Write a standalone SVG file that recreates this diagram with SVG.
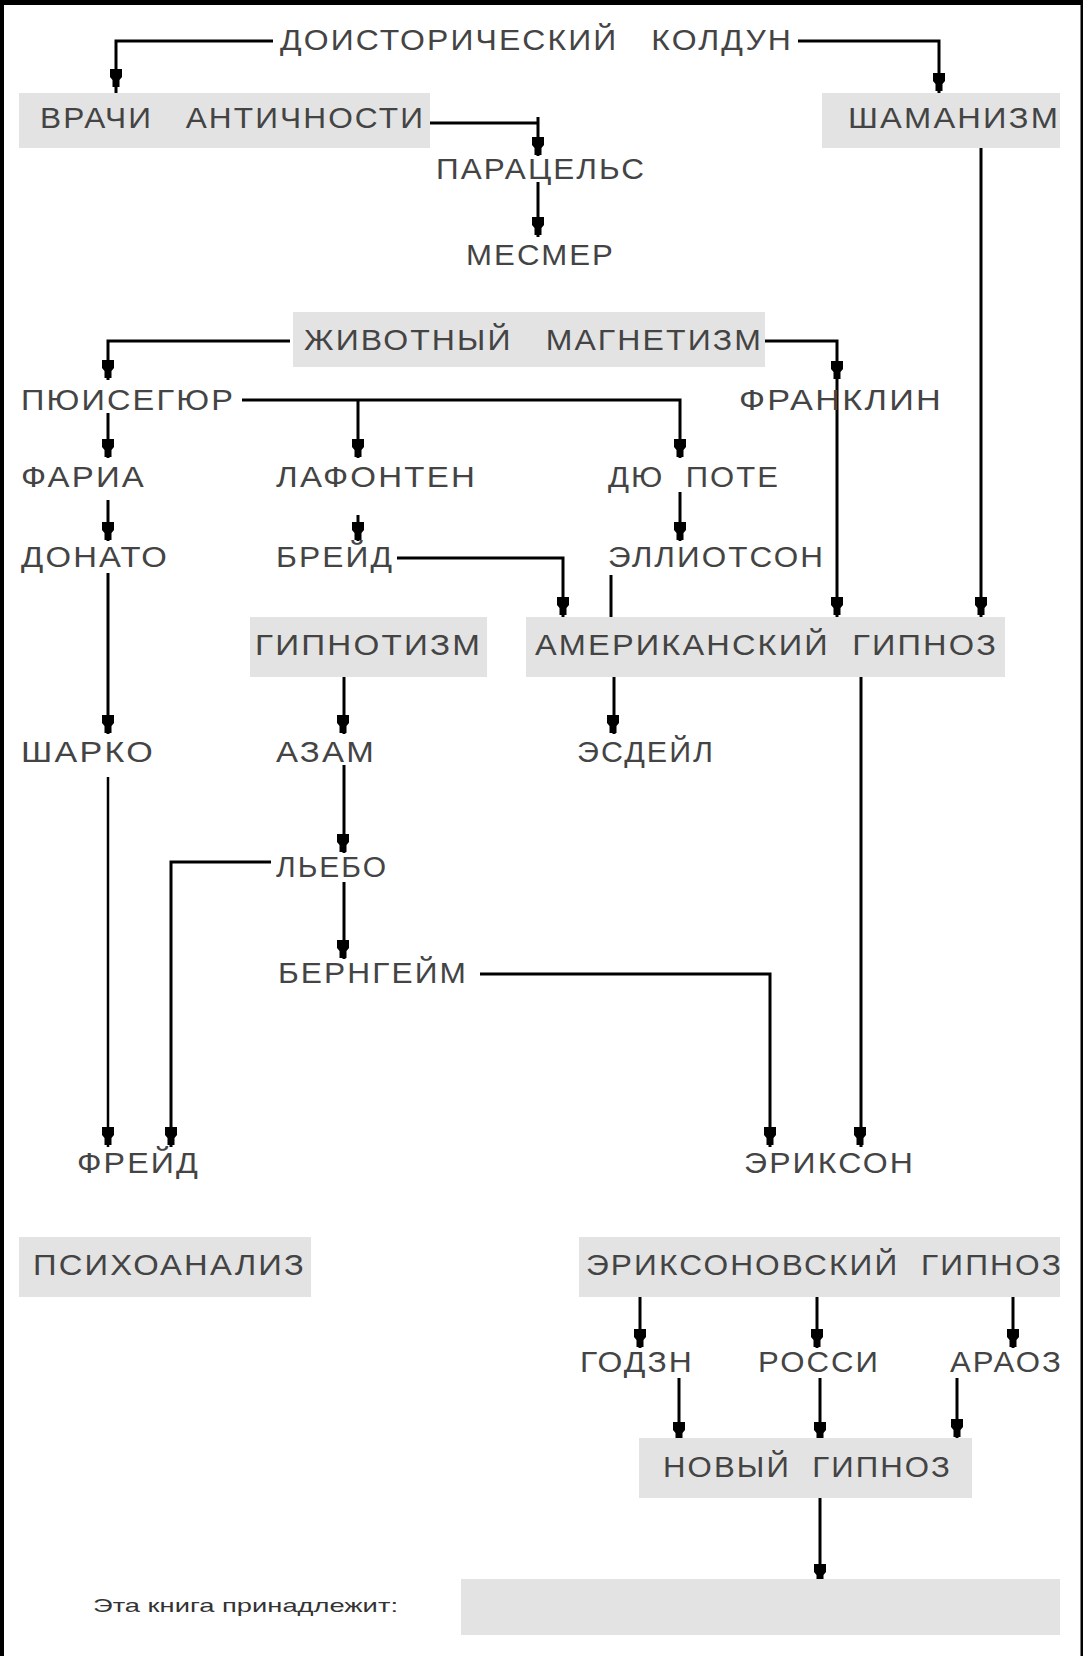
<svg xmlns="http://www.w3.org/2000/svg" xmlns:xlink="http://www.w3.org/1999/xlink" width="1083" height="1656" viewBox="0 0 1083 1656">
<style>
  .box { fill: #e3e3e3; }
  .t { font-family: "Liberation Sans", Arial, sans-serif; font-size: 30px; fill: #444; white-space: pre; letter-spacing: 2px; }
  .s { font-family: "Liberation Sans", Arial, sans-serif; font-size: 19px; fill: #333; white-space: pre; }
  .c path { fill: none; stroke: #000; stroke-width: 3; }
  .frame { stroke: #000; fill: none; }
</style>
<defs>
  <polygon id="ah" points="-6,-18 6,-18 6,-10 3.5,-7 3.5,0 -3.5,0 -3.5,-7 -6,-10" fill="#000"/>
</defs>
<rect width="1083" height="1656" fill="#fff"/>
<line class="frame" x1="2" y1="0" x2="2" y2="1656" stroke-width="4"/>
<line class="frame" x1="0" y1="2.5" x2="1083" y2="2.5" stroke-width="5"/>
<line class="frame" x1="1082" y1="0" x2="1082" y2="1656" stroke-width="3"/>

<g id="connectors" class="c">
  <path d="M273,41 H116 V93"/><use xlink:href="#ah" x="116" y="87"/>
  <path d="M798,41 H939 V93"/><use xlink:href="#ah" x="939" y="91"/>
  <path d="M430,123 H538 M538,117 V156"/><use xlink:href="#ah" x="538" y="155"/>
  <path d="M538,182 V237"/><use xlink:href="#ah" x="538" y="235"/>
  <path d="M290,341 H108 V380"/><use xlink:href="#ah" x="108" y="378"/>
  <path d="M765,341 H837 V617"/><use xlink:href="#ah" x="837" y="379"/><use xlink:href="#ah" x="837" y="615"/>
  <path d="M242,400 H680 V458 M358,400 V458"/><use xlink:href="#ah" x="358" y="457"/><use xlink:href="#ah" x="680" y="457"/>
  <path d="M108,413 V458"/><use xlink:href="#ah" x="108" y="457"/>
  <path d="M108,500 V541"/><use xlink:href="#ah" x="108" y="540"/>
  <path d="M358,515 V541"/><use xlink:href="#ah" x="358" y="540"/>
  <path d="M680,492 V541"/><use xlink:href="#ah" x="680" y="540"/>
  <path d="M397,558 H563 V617"/><use xlink:href="#ah" x="563" y="615"/>
  <path d="M611,575 V617"/>
  <path d="M981,148 V617"/><use xlink:href="#ah" x="981" y="615"/>
  <path d="M108,573 V734"/><use xlink:href="#ah" x="108" y="733"/>
  <path d="M344,677 V734"/><use xlink:href="#ah" x="343" y="733"/>
  <path d="M614,677 V734"/><use xlink:href="#ah" x="613" y="733"/>
  <path d="M861,677 V1147"/><use xlink:href="#ah" x="860" y="1145"/>
  <path d="M108,777 V1147" style="stroke-width:2.5"/><use xlink:href="#ah" x="108" y="1145"/>
  <path d="M344,765 V853"/><use xlink:href="#ah" x="343" y="852"/>
  <path d="M271,862 H171 V1147"/><use xlink:href="#ah" x="171" y="1145"/>
  <path d="M344,882 V959"/><use xlink:href="#ah" x="343" y="958"/>
  <path d="M480,974 H770 V1147"/><use xlink:href="#ah" x="770" y="1145"/>
  <path d="M640,1297 V1348"/><use xlink:href="#ah" x="640" y="1347"/>
  <path d="M817,1297 V1348"/><use xlink:href="#ah" x="817" y="1347"/>
  <path d="M1013,1297 V1348"/><use xlink:href="#ah" x="1013" y="1347"/>
  <path d="M679,1378 V1440"/><use xlink:href="#ah" x="679" y="1440"/>
  <path d="M820,1378 V1440"/><use xlink:href="#ah" x="820" y="1440"/>
  <path d="M957,1378 V1440"/><use xlink:href="#ah" x="957" y="1437"/>
  <path d="M820,1498 V1582"/><use xlink:href="#ah" x="820" y="1582"/>
</g>

<g id="n-koldun"><text class="t" x="280" y="50" textLength="513" lengthAdjust="spacingAndGlyphs">ДОИСТОРИЧЕСКИЙ   КОЛДУН</text></g>
<g id="n-vrachi"><rect class="box" x="19" y="93" width="411" height="55"/><text class="t" x="40" y="128" textLength="385" lengthAdjust="spacingAndGlyphs">ВРАЧИ   АНТИЧНОСТИ</text></g>
<g id="n-shamanizm"><rect class="box" x="822" y="93" width="238" height="55"/><text class="t" x="848" y="128" textLength="212" lengthAdjust="spacingAndGlyphs">ШАМАНИЗМ</text></g>
<g id="n-paracels"><text class="t" x="436" y="179" textLength="210" lengthAdjust="spacingAndGlyphs">ПАРАЦЕЛЬС</text></g>
<g id="n-mesmer"><text class="t" x="466" y="265" textLength="149" lengthAdjust="spacingAndGlyphs">МЕСМЕР</text></g>
<g id="n-magnetizm"><rect class="box" x="293" y="312" width="472" height="55"/><text class="t" x="304" y="350" textLength="459" lengthAdjust="spacingAndGlyphs">ЖИВОТНЫЙ   МАГНЕТИЗМ</text></g>
<g id="n-puisegur"><text class="t" x="21" y="410" textLength="214" lengthAdjust="spacingAndGlyphs">ПЮИСЕГЮР</text></g>
<g id="n-franklin"><text class="t" x="739" y="410" textLength="204" lengthAdjust="spacingAndGlyphs">ФРАНКЛИН</text></g>
<g id="n-faria"><text class="t" x="21" y="487" textLength="125" lengthAdjust="spacingAndGlyphs">ФАРИА</text></g>
<g id="n-lafonten"><text class="t" x="276" y="487" textLength="201" lengthAdjust="spacingAndGlyphs">ЛАФОНТЕН</text></g>
<g id="n-dupote"><text class="t" x="608" y="487" textLength="172" lengthAdjust="spacingAndGlyphs">ДЮ  ПОТЕ</text></g>
<g id="n-donato"><text class="t" x="21" y="567" textLength="148" lengthAdjust="spacingAndGlyphs">ДОНАТО</text></g>
<g id="n-breid"><text class="t" x="276" y="567" textLength="118" lengthAdjust="spacingAndGlyphs">БРЕЙД</text></g>
<g id="n-elliotson"><text class="t" x="608" y="567" textLength="217" lengthAdjust="spacingAndGlyphs">ЭЛЛИОТСОН</text></g>
<g id="n-gipnotizm"><rect class="box" x="250" y="617" width="237" height="60"/><text class="t" x="255" y="655" textLength="227" lengthAdjust="spacingAndGlyphs">ГИПНОТИЗМ</text></g>
<g id="n-american"><rect class="box" x="526" y="617" width="479" height="60"/><text class="t" x="535" y="655" textLength="463" lengthAdjust="spacingAndGlyphs">АМЕРИКАНСКИЙ  ГИПНОЗ</text></g>
<g id="n-sharko"><text class="t" x="21" y="762" textLength="134" lengthAdjust="spacingAndGlyphs">ШАРКО</text></g>
<g id="n-azam"><text class="t" x="276" y="762" textLength="100" lengthAdjust="spacingAndGlyphs">АЗАМ</text></g>
<g id="n-esdeil"><text class="t" x="577" y="762" textLength="138" lengthAdjust="spacingAndGlyphs">ЭСДЕЙЛ</text></g>
<g id="n-liebo"><text class="t" x="276" y="877" textLength="112" lengthAdjust="spacingAndGlyphs">ЛЬЕБО</text></g>
<g id="n-bernheim"><text class="t" x="278" y="983" textLength="190" lengthAdjust="spacingAndGlyphs">БЕРНГЕЙМ</text></g>
<g id="n-freud"><text class="t" x="77" y="1173" textLength="123" lengthAdjust="spacingAndGlyphs">ФРЕЙД</text></g>
<g id="n-erickson"><text class="t" x="744" y="1173" textLength="171" lengthAdjust="spacingAndGlyphs">ЭРИКСОН</text></g>
<g id="n-psychoanalysis"><rect class="box" x="19" y="1237" width="292" height="60"/><text class="t" x="33" y="1275" textLength="273" lengthAdjust="spacingAndGlyphs">ПСИХОАНАЛИЗ</text></g>
<g id="n-ericksonian"><rect class="box" x="579" y="1237" width="481" height="60"/><text class="t" x="586" y="1275" textLength="477" lengthAdjust="spacingAndGlyphs">ЭРИКСОНОВСКИЙ  ГИПНОЗ</text></g>
<g id="n-godzn"><text class="t" x="580" y="1372" textLength="114" lengthAdjust="spacingAndGlyphs">ГОДЗН</text></g>
<g id="n-rossi"><text class="t" x="758" y="1372" textLength="122" lengthAdjust="spacingAndGlyphs">РОССИ</text></g>
<g id="n-araoz"><text class="t" x="950" y="1372" textLength="113" lengthAdjust="spacingAndGlyphs">АРАОЗ</text></g>
<g id="n-new"><rect class="box" x="639" y="1438" width="333" height="60"/><text class="t" x="663" y="1477" textLength="289" lengthAdjust="spacingAndGlyphs">НОВЫЙ  ГИПНОЗ</text></g>
<g id="n-owner"><text class="s" x="93" y="1612" textLength="305" lengthAdjust="spacingAndGlyphs">Эта книга принадлежит:</text><rect class="box" x="461" y="1579" width="599" height="56"/></g>
</svg>
